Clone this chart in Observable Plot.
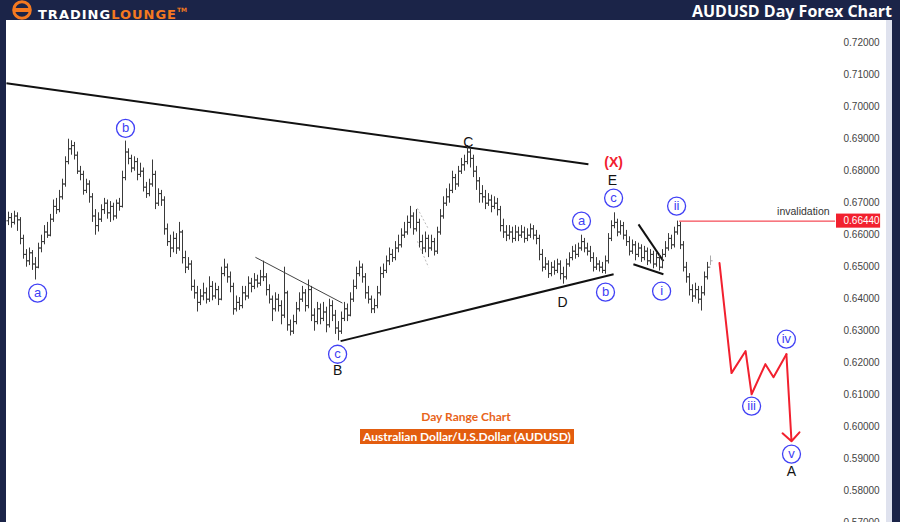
<!DOCTYPE html>
<html><head><meta charset="utf-8">
<script src="https://cdn.jsdelivr.net/npm/d3@7"></script>
<script src="https://cdn.jsdelivr.net/npm/@observablehq/plot@0.6"></script>
<style>
html,body{margin:0;padding:0;background:#1b2448;width:900px;height:522px;overflow:hidden;font-family:"Liberation Sans",Arial,sans-serif}
#header{position:absolute;left:0;top:0;width:900px;height:20px;background:#1b2448}
#logo{position:absolute;left:11px;top:0px}
#brand{position:absolute;left:38px;top:0;line-height:20px;font-family:"DejaVu Sans",sans-serif;font-weight:bold;font-size:13px;letter-spacing:1px}
#brand .w{color:#fff}#brand .o{color:#f47920}#brand sup{color:#f47920;font-size:6px;vertical-align:7px;letter-spacing:0}
#title{position:absolute;right:8px;top:1px;line-height:20px;color:#fff;font-family:"Open Sans",sans-serif;font-weight:700;font-size:16px}
#chart{position:absolute;left:6px;top:20px;width:880px;height:502px;background:#fff}
#strip{position:absolute;left:886px;top:20px;width:6px;height:502px;background:#dfe2ee}
#sub1{position:absolute;left:366px;width:200px;top:409px;text-align:center;font-family:Lato,sans-serif;font-weight:700;font-size:12px;color:#e8641a}
#sub2{position:absolute;left:360px;top:429px;width:214px;height:15px;line-height:15px;background:#e35d0f;color:#fff;text-align:center;font-family:Lato,sans-serif;font-weight:700;font-size:12px}
</style></head>
<body>
<div id="header">
  <svg id="logo" width="24" height="20" viewBox="0 0 24 20">
    <circle cx="11" cy="10" r="8.3" fill="none" stroke="#f47920" stroke-width="3"/>
    <rect x="2" y="8" width="18" height="4" fill="#f47920"/>
  </svg>
  <div id="brand"><span class="w">TRADING</span><span class="o">LOUNGE</span><sup>TM</sup></div>
  <div id="title">AUDUSD Day Forex Chart</div>
</div>
<div id="chart"></div>
<div id="strip"></div>
<div id="sub1">Day Range Chart</div>
<div id="sub2">Australian Dollar/U.S.Dollar (AUDUSD)</div>
<script>
// Daily bars (prices in 1/10000)
const firstOpen = 6645;
const closes = [
6655,6640,6660,6648,6590,6540,6520,6545,6510,6500,
6560,6580,6610,6600,6650,6690,6680,6720,6760,6830,
6870,6880,6850,6800,6790,6740,6760,6720,6660,6630,
6650,6680,6700,6670,6690,6660,6700,6690,6780,6860,
6840,6810,6830,6790,6800,6750,6730,6760,6790,6700,
6730,6710,6620,6580,6560,6590,6560,6610,6530,6500,
6510,6440,6420,6390,6410,6420,6400,6440,6410,6430,
6400,6480,6500,6470,6440,6370,6390,6380,6420,6410,
6450,6440,6460,6450,6470,6470,6430,6400,6370,6400,
6380,6350,6420,6320,6300,6330,6370,6400,6420,6380,
6430,6350,6330,6370,6340,6360,6320,6380,6350,6310,
6300,6340,6370,6350,6400,6440,6480,6500,6470,6420,
6400,6370,6380,6420,6480,6490,6520,6540,6530,6560,
6570,6600,6610,6640,6660,6620,6640,6580,6560,6590,
6560,6580,6550,6610,6660,6700,6720,6740,6780,6760,
6800,6820,6830,6860,6840,6800,6770,6730,6720,6700,
6710,6690,6700,6680,6630,6610,6600,6610,6590,6610,
6600,6610,6590,6600,6620,6600,6590,6540,6500,6510,
6480,6500,6490,6510,6480,6470,6510,6530,6550,6540,
6560,6580,6560,6550,6530,6500,6510,6500,6490,6520,
6590,6630,6640,6610,6630,6600,6580,6550,6570,6540,
6560,6530,6550,6520,6540,6510,6530,6500,6540,6560,
6590,6570,6610,6630,6570,6500,6470,6430,6410,6430,
6400,6420,6470,6500,6520];
const highs = [
6672,6668,6675,6670,6655,6600,6555,6560,6552,6530,
6575,6600,6630,6640,6665,6710,6715,6740,6775,6845,
6900,6895,6890,6860,6815,6800,6775,6770,6730,6680,
6670,6695,6715,6710,6705,6700,6710,6715,6800,6894,
6870,6850,6845,6840,6825,6810,6765,6775,6835,6800,
6745,6740,6720,6635,6600,6610,6605,6640,6615,6550,
6530,6520,6460,6440,6430,6450,6435,6470,6455,6450,
6440,6500,6525,6510,6485,6450,6410,6405,6440,6440,
6470,6465,6480,6475,6490,6519,6480,6445,6410,6420,
6415,6395,6500,6425,6335,6350,6390,6420,6440,6430,
6460,6440,6370,6390,6385,6390,6375,6400,6395,6365,
6330,6360,6390,6385,6420,6460,6500,6519,6510,6480,
6440,6410,6400,6440,6500,6510,6535,6560,6555,6580,
6600,6620,6640,6660,6690,6670,6680,6650,6600,6610,
6600,6600,6590,6625,6680,6720,6745,6760,6800,6790,
6815,6840,6850,6880,6870,6850,6815,6780,6755,6740,
6730,6725,6720,6715,6690,6650,6630,6630,6625,6630,
6625,6630,6625,6620,6635,6630,6615,6600,6555,6530,
6520,6515,6520,6525,6520,6500,6525,6545,6565,6570,
6575,6600,6590,6575,6565,6545,6530,6520,6515,6535,
6605,6645,6670,6650,6645,6640,6615,6595,6585,6580,
6575,6570,6565,6560,6555,6550,6545,6540,6555,6580,
6605,6600,6625,6644,6640,6580,6515,6480,6445,6450,
6440,6440,6485,6515,6535];
const lows = [
6630,6622,6632,6612,6570,6525,6500,6505,6490,6460,
6495,6545,6570,6590,6595,6640,6665,6670,6710,6750,
6820,6850,6835,6790,6770,6725,6730,6700,6640,6600,
6610,6640,6665,6650,6640,6645,6650,6675,6685,6770,
6820,6795,6800,6770,6780,6735,6715,6720,6750,6680,
6690,6690,6600,6565,6530,6545,6540,6550,6510,6480,
6490,6425,6400,6360,6380,6395,6385,6390,6395,6400,
6380,6395,6470,6450,6420,6350,6360,6365,6370,6395,
6400,6420,6430,6435,6440,6455,6410,6385,6330,6360,
6360,6320,6340,6300,6285,6290,6320,6360,6390,6360,
6370,6330,6300,6320,6320,6330,6295,6310,6330,6290,
6270,6290,6330,6330,6345,6390,6430,6470,6450,6400,
6385,6355,6355,6370,6410,6465,6480,6505,6515,6520,
6545,6560,6590,6600,6620,6600,6610,6560,6540,6545,
6530,6550,6535,6540,6600,6650,6690,6700,6730,6740,
6750,6790,6800,6820,6810,6780,6740,6700,6700,6680,
6690,6670,6680,6660,6610,6590,6580,6585,6575,6580,
6580,6590,6575,6580,6590,6585,6570,6520,6485,6490,
6465,6470,6475,6480,6460,6447,6460,6500,6520,6525,
6530,6550,6545,6535,6515,6485,6490,6485,6480,6478,
6510,6580,6620,6595,6600,6585,6565,6535,6540,6520,
6530,6515,6520,6505,6510,6495,6500,6488,6495,6530,
6550,6555,6560,6600,6555,6485,6450,6410,6390,6400,
6385,6363,6410,6460,6505];

// Axis tick labels
const tickValues = [0.57,0.58,0.59,0.60,0.61,0.62,0.63,0.64,0.65,0.66,0.67,0.68,0.69,0.70,0.71,0.72];
const invalidation = 0.6644;

// Trendlines (bar index, price)
const mainLines = [
  {x1:-0.7, y1:0.7075, x2:193.3, y2:0.6822},
  {x1:110.7, y1:0.6269, x2:201.7, y2:0.6478},
  {x1:210, y1:0.6634, x2:218.3, y2:0.6519},
  {x1:208.3, y1:0.6509, x2:218.3, y2:0.6478}
];
const thinLines = [{x1:82.3, y1:0.6531, x2:111.3, y2:0.6388}];
const dottedLines = [
  {x1:136.3, y1:0.6684, x2:140, y2:0.6619},
  {x1:136.3, y1:0.6581, x2:140, y2:0.6500}
];
// Projected path
const projIdx = [237, 241, 245.7, 247.7, 252.3, 255, 259.3];
const projPrice = [0.6513, 0.6169, 0.6238, 0.6103, 0.6197, 0.6156, 0.6228];
const projEnd = {i:261, p:0.5956};

// Wave labels
const circleLabels = [
  {t:"a", i:9.7, p:0.6419}, {t:"b", i:39, p:0.6934}, {t:"c", i:109.7, p:0.6228},
  {t:"a", i:191, p:0.6644}, {t:"b", i:199, p:0.6422}, {t:"c", i:201.7, p:0.6716},
  {t:"i", i:217.7, p:0.6425}, {t:"ii", i:222.7, p:0.6691}, {t:"iii", i:247.7, p:0.6066},
  {t:"iv", i:259.3, p:0.6275}, {t:"v", i:261, p:0.5916}
];
const letterLabels = [
  {t:"B", i:109.7, p:0.6178}, {t:"C", i:153.3, p:0.6891}, {t:"D", i:184.7, p:0.6391},
  {t:"E", i:201.3, p:0.6770}, {t:"A", i:261, p:0.5863}
];
const redLabels = [{t:"(X)", i:201.7, p:0.6826}];

const bars = closes.map((c, i) => ({
  i, o: (i ? closes[i-1] : firstOpen) / 1e4, h: highs[i] / 1e4, l: lows[i] / 1e4, c: c / 1e4,
  last: i === closes.length - 1
}));
const proj = projIdx.map((x, k) => ({x, y: projPrice[k]}));
const lastProj = proj[proj.length - 1];
const barColor = d => d.last ? "#aaaaaa" : "#3a3a3a";
const blue = "#4040f5";
const red = "#f2202e";

const chart = Plot.plot({
  width: 880, height: 502,
  marginLeft: 0, marginRight: 48, marginTop: 0, marginBottom: 0,
  style: {background: "white", fontFamily: "'Liberation Sans', Arial, sans-serif", fontSize: "10px", color: "#444", overflow: "visible"},
  x: {domain: [0, 276], range: [2, 830], axis: null},
  y: {domain: [0.58, 0.72], range: [470.7, 22.7], axis: null},
  marks: [
    Plot.axisY({ticks: tickValues, anchor: "right", tickSize: 0, tickPadding: 5, tickFormat: d3.format(".5f"), fill: "#444", label: null}),
    Plot.link(mainLines, {x1: "x1", y1: "y1", x2: "x2", y2: "y2", stroke: "#111", strokeWidth: 2}),
    Plot.link(thinLines, {x1: "x1", y1: "y1", x2: "x2", y2: "y2", stroke: "#444", strokeWidth: 1}),
    Plot.link(dottedLines, {x1: "x1", y1: "y1", x2: "x2", y2: "y2", stroke: "#bbb", strokeWidth: 1, strokeDasharray: "2,2"}),
    Plot.ruleX(bars, {x: "i", y1: "l", y2: "h", stroke: barColor, strokeWidth: 1}),
    Plot.link(bars, {x1: d => d.i - 0.7, x2: "i", y1: "o", y2: "o", stroke: barColor}),
    Plot.link(bars, {x1: "i", x2: d => d.i + 0.7, y1: "c", y2: "c", stroke: barColor}),
    Plot.line(proj, {x: "x", y: "y", stroke: red, strokeWidth: 2}),
    Plot.arrow([0], {x1: () => lastProj.x, y1: () => lastProj.y, x2: () => projEnd.i, y2: () => projEnd.p, stroke: red, strokeWidth: 2, headLength: 9, headAngle: 90}),
    Plot.ruleY([invalidation], {x1: 223.7, x2: 275.7, stroke: red, strokeWidth: 1}),
    Plot.rect([invalidation], {x1: 276, x2: 290.7, y1: d => d - 0.0022, y2: d => d + 0.0022, fill: red}),
    Plot.axisY({ticks: [invalidation], anchor: "right", tickSize: 0, tickPadding: 5, tickFormat: d3.format(".5f"), fill: "white", label: null}),
    Plot.text([invalidation], {x: 275.7, y: d => d, text: () => "invalidation", textAnchor: "end", dx: -6, dy: -9, fill: "#333", fontSize: 10.5}),
    Plot.dot(circleLabels, {x: "i", y: "p", r: 9, fill: "white", stroke: blue, strokeWidth: 1.3}),
    Plot.text(circleLabels, {x: "i", y: "p", text: "t", fill: blue, fontSize: 13}),
    Plot.text(letterLabels, {x: "i", y: "p", text: "t", fill: "#111", fontSize: 14}),
    Plot.text(redLabels, {x: "i", y: "p", text: "t", fill: red, fontSize: 14, fontWeight: "bold"})
  ]
});
document.getElementById("chart").appendChild(chart);
</script>
</body></html>
